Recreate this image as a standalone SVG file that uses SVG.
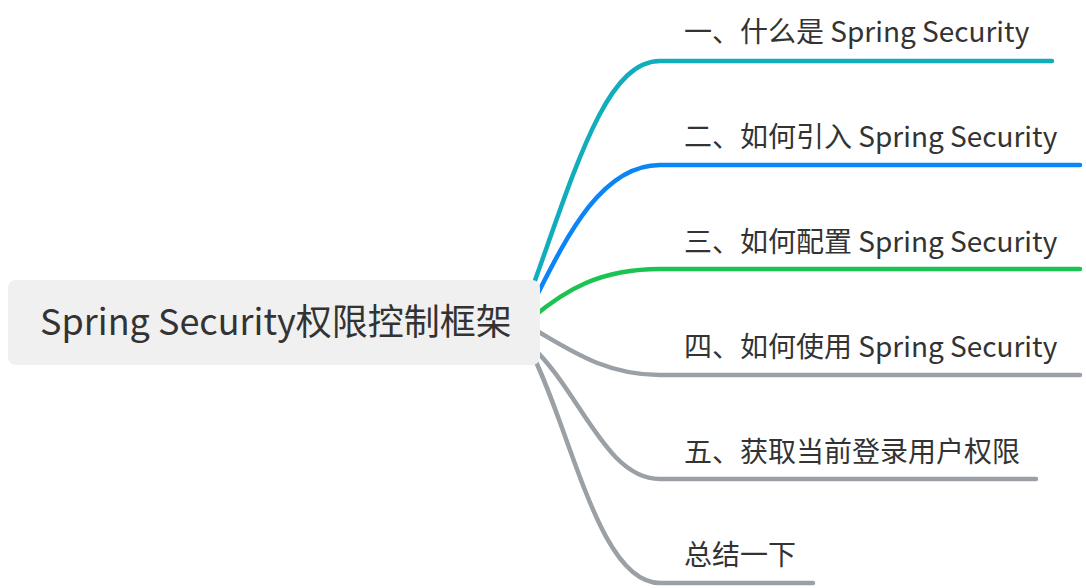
<svg xmlns="http://www.w3.org/2000/svg" width="1086" height="588" viewBox="0 0 1086 588">
<style>
.c{fill:none;stroke-width:4.5;stroke-linecap:round}
.t{font-family:"Noto Sans CJK SC","Noto Sans",sans-serif;fill:#333333}
.lbl{font-size:28px}
</style>
<rect width="1086" height="588" fill="#ffffff"/>
<g id="connectors">
<path class="c" stroke="#10adbc" d="M528 300 C575 170 605 61 660 61 L1052 61"/>
<path class="c" stroke="#0b84f7" d="M532 305 C565 240 600 165 660 165 L1080 165"/>
<path class="c" stroke="#1bc352" d="M532 318 C565 290 600 269 660 269 L1080 269"/>
<path class="c" stroke="#9aa0a6" d="M532 328 C570 350 605 375 660 375 L1080 375"/>
<path class="c" stroke="#9aa0a6" d="M530 345 C580 390 605 479 660 479 L1036 479"/>
<path class="c" stroke="#9aa0a6" d="M528 345 C572 430 598 583 660 583 L813 583"/>
</g>
<g id="root">
<rect x="8" y="280" width="532" height="85" rx="8" fill="#f0f0f0"/>
<text class="t" x="40" y="335" font-size="36">Spring Security权限控制框架</text>
</g>
<g id="n1"><text class="t lbl" x="684" y="42">一、什么是 Spring Security</text></g>
<g id="n2"><text class="t lbl" x="684" y="147">二、如何引入 Spring Security</text></g>
<g id="n3"><text class="t lbl" x="684" y="252">三、如何配置 Spring Security</text></g>
<g id="n4"><text class="t lbl" x="684" y="357">四、如何使用 Spring Security</text></g>
<g id="n5"><text class="t lbl" x="684" y="462">五、获取当前登录用户权限</text></g>
<g id="n6"><text class="t lbl" x="684" y="565">总结一下</text></g>
</svg>
